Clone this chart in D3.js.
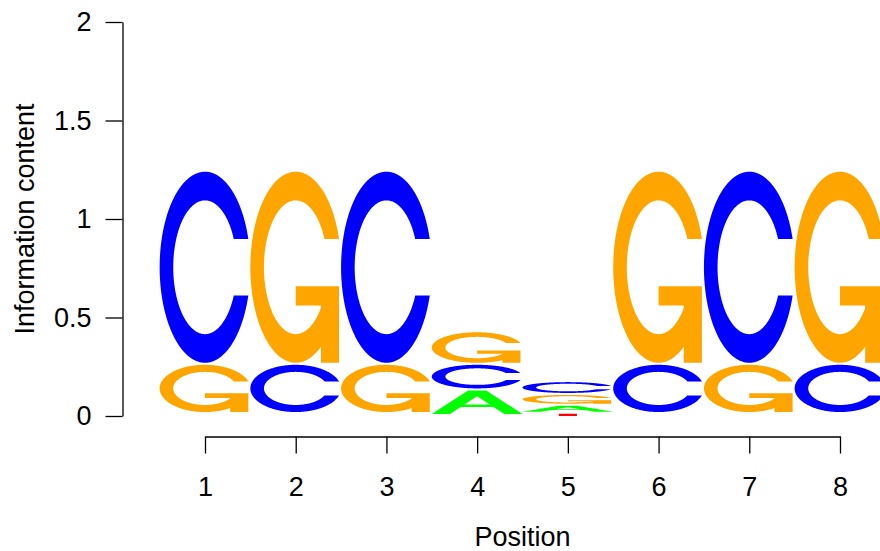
<!DOCTYPE html>
<html>
<head>
<meta charset="utf-8">
<script src="https://cdn.jsdelivr.net/npm/d3@7"></script>
<style>
  body { margin: 0; background: #fff; }
  svg { display: block; font-family: "Liberation Sans", Arial, sans-serif; }
</style>
</head>
<body>
<svg id="logo" width="880" height="551"></svg>
<script>
// heights (bits) of each letter per position
var positions = [1, 2, 3, 4, 5, 6, 7, 8];
var hA = [0, 0, 0, 0.12, 0.03, 0, 0, 0];
var hC = [0.97, 0.24, 0.97, 0.12, 0.055, 0.24, 0.97, 0.24];
var hG = [0.24, 0.97, 0.24, 0.155, 0.045, 0.97, 0.24, 0.97];
var hT = [0, 0, 0, 0, 0.012, 0, 0, 0];
var yTicks = [0, 0.5, 1, 1.5, 2];

var chars = ['A', 'C', 'G', 'T'];
var heights = { A: hA, C: hC, G: hG, T: hT };
var gap = 0.01;
var fontSize = '27px';

var svg = d3.select('#logo');
var x = d3.scaleLinear().domain([1, 8]).range([205, 840]);
var y = d3.scaleLinear().domain([0, 2]).range([416, 22]);

// letter outlines in a unit box (seqLogo style polygons)
function ringPoints(){
  var a1 = d3.range(100).map(function(i){ return 0.3 + Math.PI/2 + i*(Math.PI/2 - 0.3)/99; });
  var a2 = d3.range(100).map(function(i){ return Math.PI + i*(Math.PI/2)/99; });
  var outer = a1.concat(a2).map(function(a){ return [0.5 + 0.5*Math.sin(a), 0.5 + 0.5*Math.cos(a)]; });
  var hmax = outer[0][1];
  var inner = a1.concat(a2).map(function(a){ return [0.5 + 0.35*Math.sin(a), 0.5 + 0.35*Math.cos(a)]; })
    .filter(function(p, i){ return i >= 100 || p[1] <= hmax; });
  inner[0] = [inner[0][0], hmax];
  var o = outer.concat(outer.slice().reverse().map(function(p){ return [p[0], 1 - p[1]]; }));
  var n = inner.concat(inner.slice().reverse().map(function(p){ return [p[0], 1 - p[1]]; }));
  return { pts: o.concat(n.reverse()), r1: outer[0][0] };
}

function letterShapes(ch){
  if (ch === 'A'){
    var ax = [0,4,6,10,8,6.8,3.2,2,0], ay = [0,10,10,0,0,3,3,0,0];
    var bx = [3.6,5,6.4,3.6], by = [4,7.5,4,4];
    return [
      { fill: '#00FF00', pts: ax.map(function(v, i){ return [v/10, ay[i]/10]; }) },
      { fill: '#FFFFFF', pts: bx.map(function(v, i){ return [v/10, by[i]/10]; }) }
    ];
  }
  if (ch === 'T'){
    var tx = [0,10,10,6,6,4,4,0], ty = [10,10,9,9,0,0,9,9];
    return [{ fill: '#FF0000', pts: tx.map(function(v, i){ return [v/10, ty[i]/10]; }) }];
  }
  var ring = ringPoints();
  if (ch === 'C') return [{ fill: '#0000FF', pts: ring.pts }];
  var r1 = ring.r1, h1 = 0.4;
  var gx = [r1, 0.5, 0.5, r1 - 0.2, r1 - 0.2, r1, r1];
  var gy = [h1, h1, h1 - 0.1, h1 - 0.1, 0, 0, h1];
  return [
    { fill: '#FFA500', pts: ring.pts },
    { fill: '#FFA500', pts: gx.map(function(v, i){ return [v, gy[i]]; }) }
  ];
}

// stack letters, smallest at the bottom
var marks = [];
positions.forEach(function(p, j){
  var order = chars.slice().sort(function(a, b){ return heights[a][j] - heights[b][j]; });
  var y0 = 0;
  order.forEach(function(ch){
    var ht = heights[ch][j];
    if (ht > 0) marks.push({ pos: p, ch: ch, y0: y0, ht: ht });
    y0 += ht + gap;
  });
});

var logo = svg.append('g').attr('class', 'letters');
marks.forEach(function(m){
  var line = d3.line()
    .x(function(d){ return x(m.pos - 0.5 + d[0]); })
    .y(function(d){ return y(m.y0 + d[1]*m.ht); });
  logo.selectAll(null)
    .data(letterShapes(m.ch)).enter()
    .append('path')
    .attr('d', function(d){ return line(d.pts) + 'Z'; })
    .attr('fill', function(d){ return d.fill; })
    .attr('stroke', 'none');
});

// axes
var yAxis = svg.append('g')
  .attr('transform', 'translate(122.5,0)')
  .call(d3.axisLeft(y).tickValues(yTicks).tickFormat(d3.format('')).tickSize(17).tickSizeOuter(0).tickPadding(14));
var xAxis = svg.append('g')
  .attr('transform', 'translate(0,436.5)')
  .call(d3.axisBottom(x).tickValues(positions).tickFormat(d3.format('d')).tickSize(17).tickSizeOuter(0).tickPadding(23));

[yAxis, xAxis].forEach(function(g){
  g.selectAll('path, line').attr('stroke', '#000').attr('stroke-width', 1.3);
  g.selectAll('text').attr('fill', '#000').style('font-size', fontSize)
    .style('font-family', '"Liberation Sans", Arial, sans-serif');
});

svg.append('text')
  .attr('transform', 'translate(34,219) rotate(-90)')
  .attr('text-anchor', 'middle')
  .style('font-size', fontSize)
  .text('Information content');

svg.append('text')
  .attr('x', x(4.5))
  .attr('y', 546)
  .attr('text-anchor', 'middle')
  .style('font-size', fontSize)
  .text('Position');
</script>
</body>
</html>
